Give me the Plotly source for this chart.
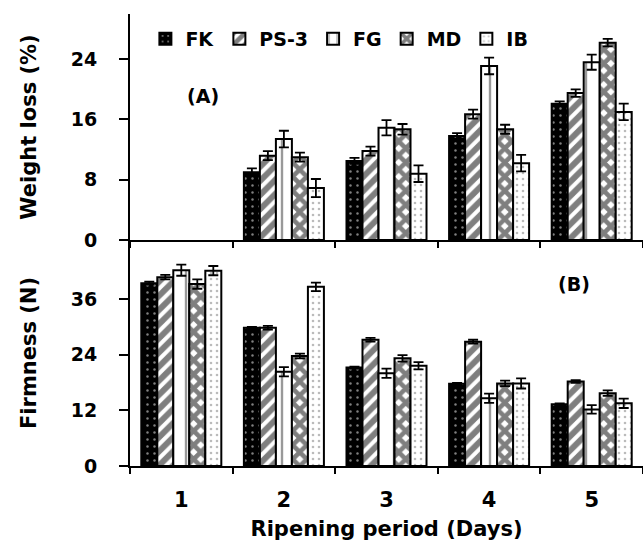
import plotly.graph_objects as go

days = ["1", "2", "3", "4", "5"]
series = ["FK", "PS-3", "FG", "MD", "IB"]

# Weight loss (%) - panel A (day 1 has no bars)
wl_FK = [None, 9.0, 10.5, 13.8, 18.1]
wl_PS3 = [None, 11.2, 11.8, 16.7, 19.5]
wl_FG = [None, 13.4, 14.9, 23.1, 23.6]
wl_MD = [None, 11.0, 14.7, 14.7, 26.2]
wl_IB = [None, 6.9, 8.8, 10.2, 17.0]
wl_err_FK = [0, 0.5, 0.4, 0.4, 0.3]
wl_err_PS3 = [0, 0.6, 0.6, 0.6, 0.5]
wl_err_FG = [0, 1.1, 1.0, 1.1, 1.0]
wl_err_MD = [0, 0.6, 0.7, 0.6, 0.5]
wl_err_IB = [0, 1.2, 1.1, 1.1, 1.1]

# Firmness (N) - panel B
fi_FK = [39.4, 29.8, 21.2, 17.7, 13.3]
fi_PS3 = [40.7, 29.8, 27.2, 26.8, 18.2]
fi_FG = [42.2, 20.3, 20.0, 14.6, 12.2]
fi_MD = [39.2, 23.7, 23.2, 17.8, 15.7]
fi_IB = [42.1, 38.6, 21.6, 17.8, 13.5]
fi_err_FK = [0.3, 0.2, 0.2, 0.2, 0.2]
fi_err_PS3 = [0.5, 0.4, 0.4, 0.4, 0.3]
fi_err_FG = [1.2, 1.0, 1.0, 1.0, 0.9]
fi_err_MD = [1.0, 0.5, 0.7, 0.6, 0.6]
fi_err_IB = [1.0, 0.9, 0.8, 1.1, 1.0]

wl = [wl_FK, wl_PS3, wl_FG, wl_MD, wl_IB]
wl_err = [wl_err_FK, wl_err_PS3, wl_err_FG, wl_err_MD, wl_err_IB]
fi = [fi_FK, fi_PS3, fi_FG, fi_MD, fi_IB]
fi_err = [fi_err_FK, fi_err_PS3, fi_err_FG, fi_err_MD, fi_err_IB]

patterns = [
    dict(shape=".", fgcolor="white", bgcolor="black", size=7, solidity=0.1),
    dict(shape="/", fgcolor="black", bgcolor="white", size=10, solidity=0.6),
    dict(shape="|", fgcolor="#333333", bgcolor="white", size=16, solidity=0.15),
    dict(shape="x", fgcolor="black", bgcolor="white", size=10, solidity=0.7),
    dict(shape=".", fgcolor="#777777", bgcolor="white", size=6, solidity=0.15),
]

FONT = "DejaVu Sans, Liberation Sans, Arial, sans-serif"
fig = go.Figure()

for i, name in enumerate(series):
    fig.add_trace(go.Bar(
        x=days, y=wl[i], name=name, xaxis="x", yaxis="y",
        marker=dict(color="white", pattern=patterns[i], line=dict(color="black", width=2)),
        error_y=dict(type="data", array=wl_err[i], color="black", thickness=1.8, width=5),
        showlegend=True, legendgroup=name,
    ))
for i, name in enumerate(series):
    fig.add_trace(go.Bar(
        x=days, y=fi[i], name=name, xaxis="x2", yaxis="y2",
        marker=dict(color="white", pattern=patterns[i], line=dict(color="black", width=2)),
        error_y=dict(type="data", array=fi_err[i], color="black", thickness=1.8, width=5),
        showlegend=False, legendgroup=name,
    ))

ytickfont = dict(family=FONT, size=19, color="black", weight="bold")
xtickfont = dict(family=FONT, size=21, color="black", weight="bold")
titlefont = dict(family=FONT, size=21, color="black", weight="bold")
common_x = dict(type="category", range=[-0.5, 4.5], tickson="boundaries", ticks="outside",
                ticklen=6, tickwidth=2, tickcolor="black", showline=True, linecolor="black",
                linewidth=2, showgrid=False, zeroline=False, tickfont=xtickfont, automargin=False)
common_y = dict(ticks="outside", ticklen=9, tickwidth=2, tickcolor="black", showline=True,
                linecolor="black", linewidth=2, showgrid=False, zeroline=False,
                tickfont=ytickfont, ticklabelstandoff=18, automargin=False)

fig.update_layout(
    width=643, height=542,
    margin=dict(l=130, r=0, t=14, b=76),
    plot_bgcolor="white", paper_bgcolor="white",
    barmode="group", bargap=0.22, bargroupgap=0,
    font=dict(family=FONT, color="black"),
    xaxis=dict(**common_x, anchor="y", showticklabels=False, matches="x2"),
    xaxis2=dict(**common_x, anchor="y2", ticklabelstandoff=14,
                title=dict(text="Ripening period (Days)", font=titlefont, standoff=10)),
    yaxis=dict(**common_y, domain=[0.5, 1], range=[0, 30], tickvals=[0, 8, 16, 24],
               title=dict(text="Weight loss (%)", font=titlefont, standoff=28)),
    yaxis2=dict(**common_y, domain=[0, 0.5], range=[0, 48.7], tickvals=[0, 12, 24, 36],
                title=dict(text="Firmness (N)", font=titlefont, standoff=28)),
    legend=dict(orientation="h", x=0.03, xanchor="left", y=0.945, yanchor="middle",
                font=dict(family=FONT, size=19, weight="bold"), bgcolor="rgba(0,0,0,0)",
                itemwidth=30, tracegroupgap=0),
    annotations=[
        dict(text="(A)", x=0.142, y=0.819, xref="paper", yref="paper", showarrow=False,
             xanchor="center", yanchor="middle", font=dict(family=FONT, size=19, weight="bold")),
        dict(text="(B)", x=0.866, y=0.403, xref="paper", yref="paper", showarrow=False,
             xanchor="center", yanchor="middle", font=dict(family=FONT, size=19, weight="bold")),
    ],
)

fig.write_html("out.html")
